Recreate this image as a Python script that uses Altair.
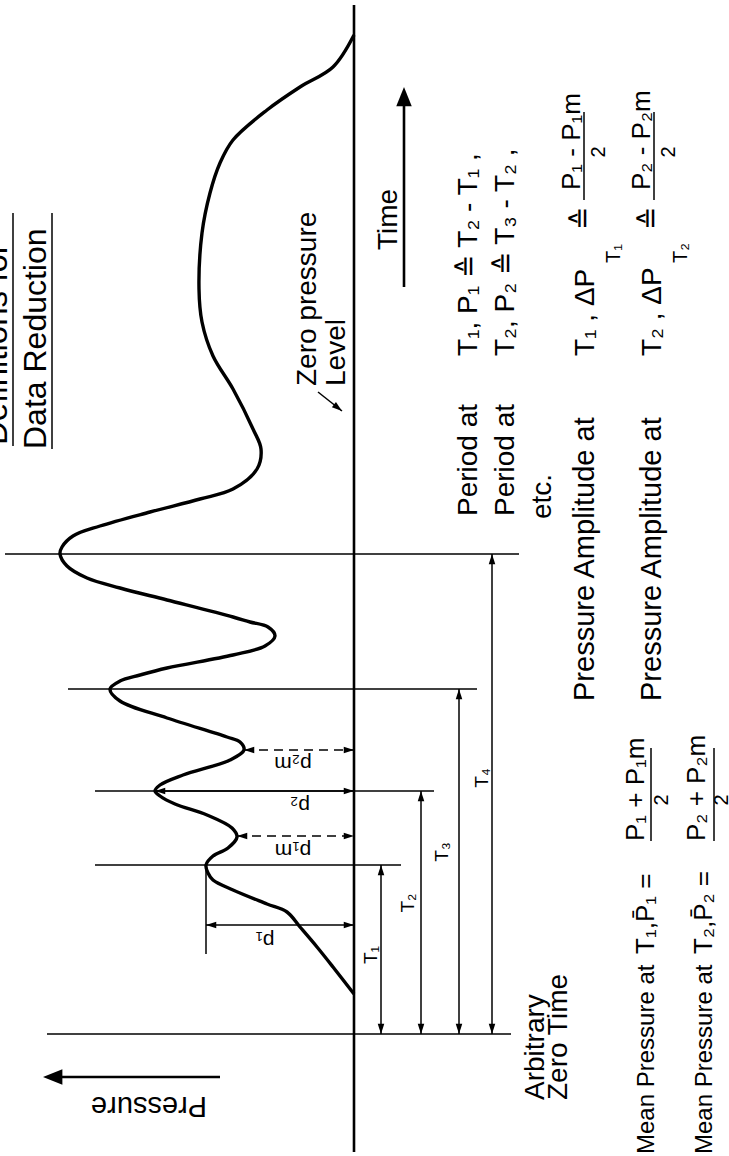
import altair as alt
import pandas as pd

# ---------------- data (time t upward, pressure p leftward; arbitrary units) ----------------
curve_time = [40, 67, 87, 107, 122, 130, 144, 154, 161, 169, 178, 186, 197, 206, 219, 230, 238, 243, 249, 259,
              274, 284, 292, 297, 316, 333, 345, 353, 359, 366, 379, 388, 398, 407, 412, 417, 434, 446, 456, 468,
              480, 487, 498, 508, 522, 535, 545, 565, 585, 605, 645, 678, 712, 745, 801, 841, 871, 894, 924, 947,
              967, 999]
curve_pressure = [0, 21, 37, 54, 67, 87, 121, 141, 146, 148, 141, 126, 117, 122, 147, 179, 194, 199, 194, 171,
                  124, 110, 114, 127, 187, 234, 244, 234, 214, 187, 121, 89, 79, 86, 104, 121, 187, 234, 267, 287,
                  294, 292, 281, 254, 204, 154, 121, 97, 93, 101, 121, 141, 152, 155, 152, 144, 134, 121, 87, 54,
                  21, 0]

# period marks T1..T4
period_times = [169, 243, 345, 480]
period_line_left = [259, 259, 286, 349]
period_line_right = [-47, -80, -123, -165]
period_arrow_p = [-27, -67, -105, -138]
period_labels = ["T\u2081", "T\u2082", "T\u2083", "T\u2084"]
period_label_p = [-17, -54, -88, -128]
period_label_t = [79, 131, 182, 256]

# amplitude arrows p1, p2 (solid) and p1m, p2m (dashed)
amp_names = ["p\u2081", "p\u2082", "p\u2081m", "p\u2082m"]
amp_time = [109, 243, 198, 284]
amp_pressure = [148, 199, 117, 110]
amp_dashed = [False, False, True, True]
amp_label_p = [89, 54, 61, 61]
amp_label_t = [94, 229, 184, 271]

# text block (reading upward)
text_items = ["Definitions   for", "Data  Reduction", "Zero  pressure", "Level", "Time",
              "Period  at", "T\u2081,  P\u2081 \u2259 T\u2082 - T\u2081 ,",
              "Period  at", "T\u2082,  P\u2082 \u2259 T\u2083 - T\u2082 ,", "etc.",
              "Pressure  Amplitude  at", "T\u2081 , \u0394P", "T\u2081", "\u2259", "P\u2081 - P\u2081m",
              "Pressure  Amplitude  at", "T\u2082 , \u0394P", "T\u2082", "\u2259", "P\u2082 - P\u2082m",
              "Mean Pressure at", "T\u2081,P\u0304\u2081 =", "P\u2081 + P\u2081m",
              "Mean Pressure at", "T\u2082,P\u0304\u2082 =", "P\u2082 + P\u2082m",
              "Arbitrary", "Zero  Time"]
text_p = [347, 308, 38, 9, -43,
          -123, -123, -160, -160, -197,
          -240, -240, -266, -237, -226,
          -307, -307, -333, -305, -296,
          -300, -300, -290,
          -358, -358, -351,
          -190, -213]
text_t = [589, 585, 648, 648, 784,
          518, 678, 518, 678, 515,
          333, 678, 771, 804, 844,
          333, 678, 771, 804, 844,
          -120, 80, 193,
          -120, 80, 193,
          -66, -66]
text_size = [33, 32, 28, 28, 28,
             28, 28, 28, 28, 28,
             29, 28, 20, 28, 26,
             29, 28, 20, 28, 26,
             24, 26, 26,
             24, 26, 26,
             28, 28]

denom_p = [-245, -315, -308, -368]
denom_t = [882, 882, 234, 234]
frac_bar_p = [-230, -300, -297, -360]
frac_bar_t1 = [834, 834, 193, 193]
frac_bar_t2 = [922, 922, 286, 286]

P_DOMAIN = [-375, 354]
T_DOMAIN = [-122, 1034]
FONT = "Liberation Sans"

xs = alt.Scale(domain=P_DOMAIN, reverse=True, nice=False, zero=False)
ys = alt.Scale(domain=T_DOMAIN, nice=False, zero=False)


def X(f="p"):
    return alt.X(f"{f}:Q", scale=xs, axis=None)


def Y(f="t"):
    return alt.Y(f"{f}:Q", scale=ys, axis=None)


# ---------------- build tables ----------------
curve_df = pd.DataFrame({"t": curve_time, "p": curve_pressure})

thin = []
for T, l, r, ap in zip(period_times, period_line_left, period_line_right, period_arrow_p):
    thin.append((l, T, r, T))
    thin.append((ap, 0, ap, T))
thin.append((307, 0, -157, 0))                 # arbitrary zero time
thin.append((amp_pressure[0], period_times[0], amp_pressure[0], 80))   # p1 extension
for t, p, d in zip(amp_time, amp_pressure, amp_dashed):
    if not d:
        thin.append((p, t, 0, t))
thin.append((36, 642, 12, 623))                # pointer to zero level
for bp, b1, b2 in zip(frac_bar_p, frac_bar_t1, frac_bar_t2):
    thin.append((bp, b1, bp, b2))
thin.append((341, 821, 341, 588))              # underline
thin.append((302, 821, 302, 585))              # underline
thin_df = pd.DataFrame(thin, columns=["p", "t", "p2", "t2"])

thick_df = pd.DataFrame([(0, -118, 0, 1029), (-50, 747, -50, 940), (134, -43, 300, -43)],
                        columns=["p", "t", "p2", "t2"])
dash_df = pd.DataFrame([(p, t, 0, t) for t, p, d in zip(amp_time, amp_pressure, amp_dashed) if d],
                       columns=["p", "t", "p2", "t2"])

heads = []
for T, ap in zip(period_times, period_arrow_p):
    heads.append((ap, T, 0))
    heads.append((ap, 0, 180))
for t, p in zip(amp_time, amp_pressure):
    heads.append((p, t, 270))
    heads.append((0, t, 90))
heads.append((12, 623, 128))
heads_df = pd.DataFrame(heads, columns=["p", "t", "ang"])
big_heads_df = pd.DataFrame([(-50, 947, 0), (311, -43, 270)], columns=["p", "t", "ang"])

text_df = pd.DataFrame({"txt": text_items, "p": text_p, "t": text_t, "sz": text_size})
center_df = pd.DataFrame({"txt": period_labels + ["2"] * 4,
                          "p": period_label_p + denom_p,
                          "t": period_label_t + denom_t,
                          "sz": [19] * 4 + [20] * 4})
flip_df = pd.DataFrame({"txt": ["Pressure"] + amp_names,
                        "p": [205] + amp_label_p,
                        "t": [-72] + amp_label_t,
                        "sz": [29] + [21] * 4})

# ---------------- layers ----------------
curve = alt.Chart(curve_df).mark_line(color="black", strokeWidth=3.4, interpolate="catmull-rom").encode(
    x=X(), y=Y(), order="t:Q")

rules_thin = alt.Chart(thin_df).mark_rule(color="black", strokeWidth=1.5).encode(
    x=X(), y=Y(), x2="p2:Q", y2="t2:Q")
rules_thick = alt.Chart(thick_df).mark_rule(color="black", strokeWidth=2.6).encode(
    x=X(), y=Y(), x2="p2:Q", y2="t2:Q")
rules_dash = alt.Chart(dash_df).mark_rule(color="black", strokeWidth=1.6, strokeDash=[9, 6]).encode(
    x=X(), y=Y(), x2="p2:Q", y2="t2:Q")

small_heads = alt.Chart(heads_df).mark_point(
    shape="M0,0 L0.32,1 L-0.32,1 Z", filled=True, color="black", opacity=1, size=420, strokeWidth=0).encode(
    x=X(), y=Y(), angle=alt.Angle("ang:Q", scale=None))
big_heads = alt.Chart(big_heads_df).mark_point(
    shape="M0,0 L0.4,1 L-0.4,1 Z", filled=True, color="black", opacity=1, size=1500, strokeWidth=0).encode(
    x=X(), y=Y(), angle=alt.Angle("ang:Q", scale=None))

texts = alt.Chart(text_df).mark_text(
    align="left", baseline="alphabetic", angle=270, font=FONT, color="black").encode(
    x=X(), y=Y(), text="txt:N", size=alt.Size("sz:Q", scale=None))
texts_c = alt.Chart(center_df).mark_text(
    align="center", baseline="middle", angle=270, font=FONT, color="black").encode(
    x=X(), y=Y(), text="txt:N", size=alt.Size("sz:Q", scale=None))
texts_f = alt.Chart(flip_df).mark_text(
    align="center", baseline="middle", angle=180, font=FONT, color="black").encode(
    x=X(), y=Y(), text="txt:N", size=alt.Size("sz:Q", scale=None))

chart = alt.layer(rules_thin, rules_dash, rules_thick, curve, small_heads, big_heads,
                  texts, texts_c, texts_f).properties(
    width=729, height=1156, padding=0, background="white",
    autosize=alt.AutoSizeParams(type="none")).configure_view(stroke=None)

chart.save("out.html", embed_options={"renderer": "svg", "actions": False})
